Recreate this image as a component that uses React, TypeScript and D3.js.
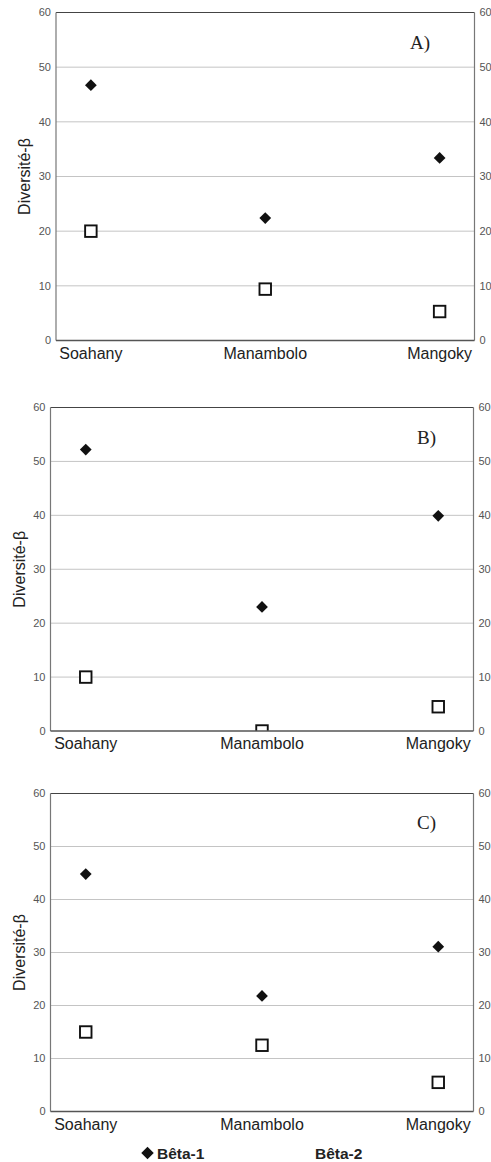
import * as d3 from 'd3';

const categories = ['Soahany', 'Manambolo', 'Mangoky'];
const yTicks = [0, 10, 20, 30, 40, 50, 60];

const betaOneA = [46.7, 22.4, 33.4];
const betaTwoA = [20.0, 9.4, 5.3];
const betaOneB = [52.2, 23.0, 39.9];
const betaTwoB = [10.0, 0, 4.5];
const betaOneC = [44.8, 21.8, 31.1];
const betaTwoC = [15.0, 12.5, 5.5];

const panels = [
  { id: 'A', title: 'A)', beta1: betaOneA, beta2: betaTwoA, left: 56, right: 474.5, top: 12.5, bottom: 340.5, yLabelX: 24, titleX: 410, titleY: 48.5 },
  { id: 'B', title: 'B)', beta1: betaOneB, beta2: betaTwoB, left: 50.5, right: 473.5, top: 407.5, bottom: 731, yLabelX: 19, titleX: 417, titleY: 444 },
  { id: 'C', title: 'C)', beta1: betaOneC, beta2: betaTwoC, left: 50.5, right: 473.5, top: 793.5, bottom: 1111.5, yLabelX: 19, titleX: 417, titleY: 829 },
];

const sans = 'Liberation Sans, Arial, sans-serif';
const serif = 'Liberation Serif, Times New Roman, serif';

const diamond = d3.symbol().type(d3.symbolDiamond2).size(88)();

function Panel({ p }: { p: (typeof panels)[number] }) {
  const x = d3.scalePoint<string>().domain(categories).range([p.left, p.right]).padding(0.2);
  const y = d3.scaleLinear().domain([0, 60]).range([p.bottom, p.top]);
  const clipId = `clip-${p.id}`;
  const sq = 11.5;

  return (
    <g>
      <defs>
        <clipPath id={clipId}>
          <rect x={p.left} y={p.top} width={p.right - p.left} height={p.bottom - p.top} />
        </clipPath>
      </defs>
      {yTicks.filter((t) => t > 0 && t < 60).map((t) => (
        <line key={t} x1={p.left} x2={p.right} y1={y(t)} y2={y(t)} stroke="#c4c4c4" strokeWidth={1} />
      ))}
      {/* frame */}
      <line x1={p.left} x2={p.right} y1={p.top} y2={p.top} stroke="#444" strokeWidth={1.2} />
      <line x1={p.left} x2={p.left} y1={p.top} y2={p.bottom} stroke="#777" strokeWidth={1.2} />
      <line x1={p.right} x2={p.right} y1={p.top} y2={p.bottom} stroke="#777" strokeWidth={1.2} />
      {yTicks.map((t) => (
        <g key={t} fontFamily={sans} fontSize={11} fill="#555">
          <text x={p.left - 5} y={y(t)} dy="0.35em" textAnchor="end">{t}</text>
          <text x={p.right + 5} y={y(t)} dy="0.35em" textAnchor="start">{t}</text>
        </g>
      ))}
      <g clipPath={`url(#${clipId})`}>
        {p.beta2.map((v, i) => (
          <rect
            key={i}
            x={x(categories[i])! - sq / 2}
            y={y(v) - sq / 2}
            width={sq}
            height={sq}
            fill="#fff"
            stroke="#111"
            strokeWidth={1.9}
          />
        ))}
      </g>
      {p.beta1.map((v, i) => (
        <path key={i} d={diamond!} transform={`translate(${x(categories[i])},${y(v)})`} fill="#111" />
      ))}
      <line x1={p.left} x2={p.right} y1={p.bottom} y2={p.bottom} stroke="#555" strokeWidth={1.4} />
      {categories.map((c) => (
        <text key={c} x={x(c)} y={p.bottom + 18} textAnchor="middle" fontFamily={sans} fontSize={16} fill="#222">
          {c}
        </text>
      ))}
      <text
        transform={`translate(${p.yLabelX},${(p.top + p.bottom) / 2}) rotate(-90)`}
        textAnchor="middle"
        dy="0.35em"
        fontFamily={sans}
        fontSize={16}
        fill="#222"
      >
        Diversité-β
      </text>
      <text x={p.titleX} y={p.titleY} fontFamily={serif} fontSize={19} fill="#222">
        {p.title}
      </text>
    </g>
  );
}

export default function App() {
  return (
    <svg width={491} height={1162} style={{ position: 'absolute', left: 0, top: 0, background: '#fff' }}>
      <rect width={491} height={1162} fill="#fff" />
      {panels.map((p) => (
        <Panel key={p.id} p={p} />
      ))}
      <g fontFamily={sans} fontSize={15.5} fontWeight="bold" fill="#222">
        <path d={d3.symbol().type(d3.symbolDiamond2).size(100)()!} transform="translate(147.5,1153)" fill="#111" />
        <text x={157} y={1158.5}>Bêta-1</text>
        <text x={315} y={1158.5}>Bêta-2</text>
      </g>
    </svg>
  );
}
